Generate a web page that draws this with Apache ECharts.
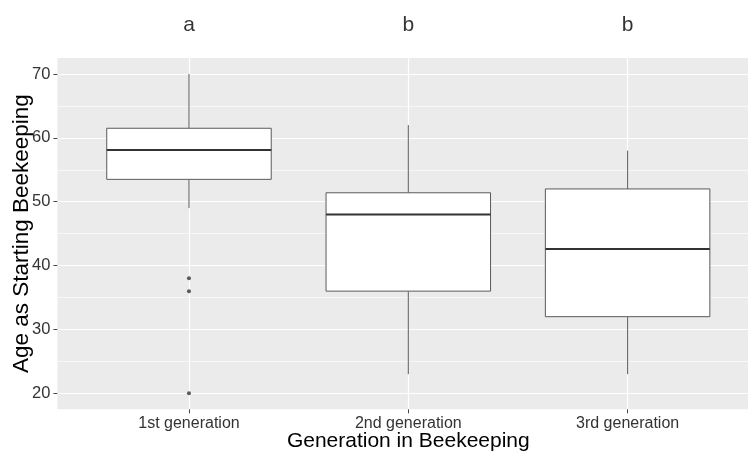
<!DOCTYPE html>
<html>
<head>
<meta charset="utf-8">
<script src="https://cdn.jsdelivr.net/npm/echarts@6/dist/echarts.min.js"></script>
<style>html,body{margin:0;padding:0;background:#fff}#c{width:748px;height:453px}</style>
</head>
<body>
<div id="c"></div>
<script>
// categories and positions (1-based on a discrete scale)
var categories = ['1st generation', '2nd generation', '3rd generation'];
var positions = [1, 2, 3];
// five-number summaries: [min, Q1, median, Q3, max]
var boxStats = [
  [49, 53.5, 58.1, 61.5, 70],
  [23, 36, 48, 51.4, 62],
  [23, 32, 42.6, 52, 58]
];
// outliers: [category position, value]
var outliers = [[1, 38], [1, 36], [1, 20]];
// significance letters
var letters = ['a', 'b', 'b'];
var letterLevel = 77.6;
var yMajorTicks = [20, 30, 40, 50, 60, 70];
var yMinorTicks = [25, 35, 45, 55, 65];

var FONT = '"Liberation Sans", Arial, sans-serif';
var chart = echarts.init(document.getElementById('c'), null, {renderer: 'canvas'});

var boxData = boxStats.map(function (s, i) { return [positions[i]].concat(s); });
var letterData = letters.map(function (l, i) { return {value: [positions[i], letterLevel], name: l}; });

chart.setOption({
  animation: false,
  grid: {
    left: 57.4, right: -11.2, top: 58, bottom: 43.7,
    outerBoundsMode: 'none', containLabel: false,
    show: true, backgroundColor: '#EBEBEB', borderWidth: 0
  },
  xAxis: {
    type: 'value', min: 0.4, max: 3.6,
    name: 'Generation in Beekeeping', nameLocation: 'middle', nameGap: 21, nameMoveOverlap: false,
    nameTextStyle: {fontFamily: FONT, fontSize: 21, color: '#000'},
    axisLine: {show: false},
    axisTick: {show: true, length: 4, lineStyle: {color: '#444', width: 1}, customValues: positions},
    axisLabel: {
      customValues: positions, margin: 6, fontFamily: FONT, fontSize: 16, color: '#333',
      formatter: function (v) { return categories[Math.round(v) - 1] || ''; }
    },
    splitLine: {show: true, lineStyle: {color: '#FFFFFF', width: 1.2}}
  },
  yAxis: [{
    type: 'value', min: 17.5, max: 72.5,
    name: 'Age as Starting Beekeeping', nameLocation: 'middle', nameGap: 24, nameMoveOverlap: false,
    nameTextStyle: {fontFamily: FONT, fontSize: 22.5, color: '#000'},
    axisLine: {show: false},
    axisTick: {show: true, length: 4, lineStyle: {color: '#444', width: 1}, customValues: yMajorTicks},
    axisLabel: {customValues: yMajorTicks, margin: 7, fontFamily: FONT, fontSize: 16.5, color: '#333'},
    splitLine: {show: true, lineStyle: {color: '#FFFFFF', width: 1.2}}
  }, {
    type: 'value', min: 17.5, max: 72.5, position: 'left',
    axisLine: {show: false},
    axisTick: {show: true, length: 0, lineStyle: {color: 'rgba(0,0,0,0)'}, customValues: yMinorTicks},
    axisLabel: {show: false, customValues: yMinorTicks},
    splitLine: {show: true, lineStyle: {color: '#FFFFFF', width: 0.6}}
  }],
  series: [{
    type: 'custom',
    data: boxData,
    z: 3,
    renderItem: function (params, api) {
      var x = api.value(0);
      var lo = api.coord([x, api.value(1)]);
      var q1 = api.coord([x, api.value(2)]);
      var md = api.coord([x, api.value(3)]);
      var q3 = api.coord([x, api.value(4)]);
      var hi = api.coord([x, api.value(5)]);
      var half = api.size([0.375, 0])[0];
      var cx = lo[0];
      var edge = {stroke: '#5a5a5a', lineWidth: 1};
      return {
        type: 'group',
        children: [
          {type: 'line', shape: {x1: cx, y1: hi[1], x2: cx, y2: q3[1]}, style: edge},
          {type: 'line', shape: {x1: cx, y1: q1[1], x2: cx, y2: lo[1]}, style: edge},
          {type: 'rect', shape: {x: cx - half, y: q3[1], width: 2 * half, height: q1[1] - q3[1]},
            style: {fill: '#FFFFFF', stroke: '#5a5a5a', lineWidth: 1}},
          {type: 'line', shape: {x1: cx - half, y1: md[1], x2: cx + half, y2: md[1]},
            style: {stroke: '#333', lineWidth: 2}}
        ]
      };
    }
  }, {
    type: 'scatter',
    data: outliers,
    symbol: 'circle', symbolSize: 4,
    itemStyle: {color: '#333'},
    z: 5
  }, {
    type: 'scatter',
    data: letterData,
    symbolSize: 0,
    clip: false,
    label: {
      show: true, position: 'inside',
      formatter: function (p) { return p.name; },
      fontFamily: FONT, fontSize: 21, color: '#000'
    },
    z: 5
  }]
});
</script>
</body>
</html>
